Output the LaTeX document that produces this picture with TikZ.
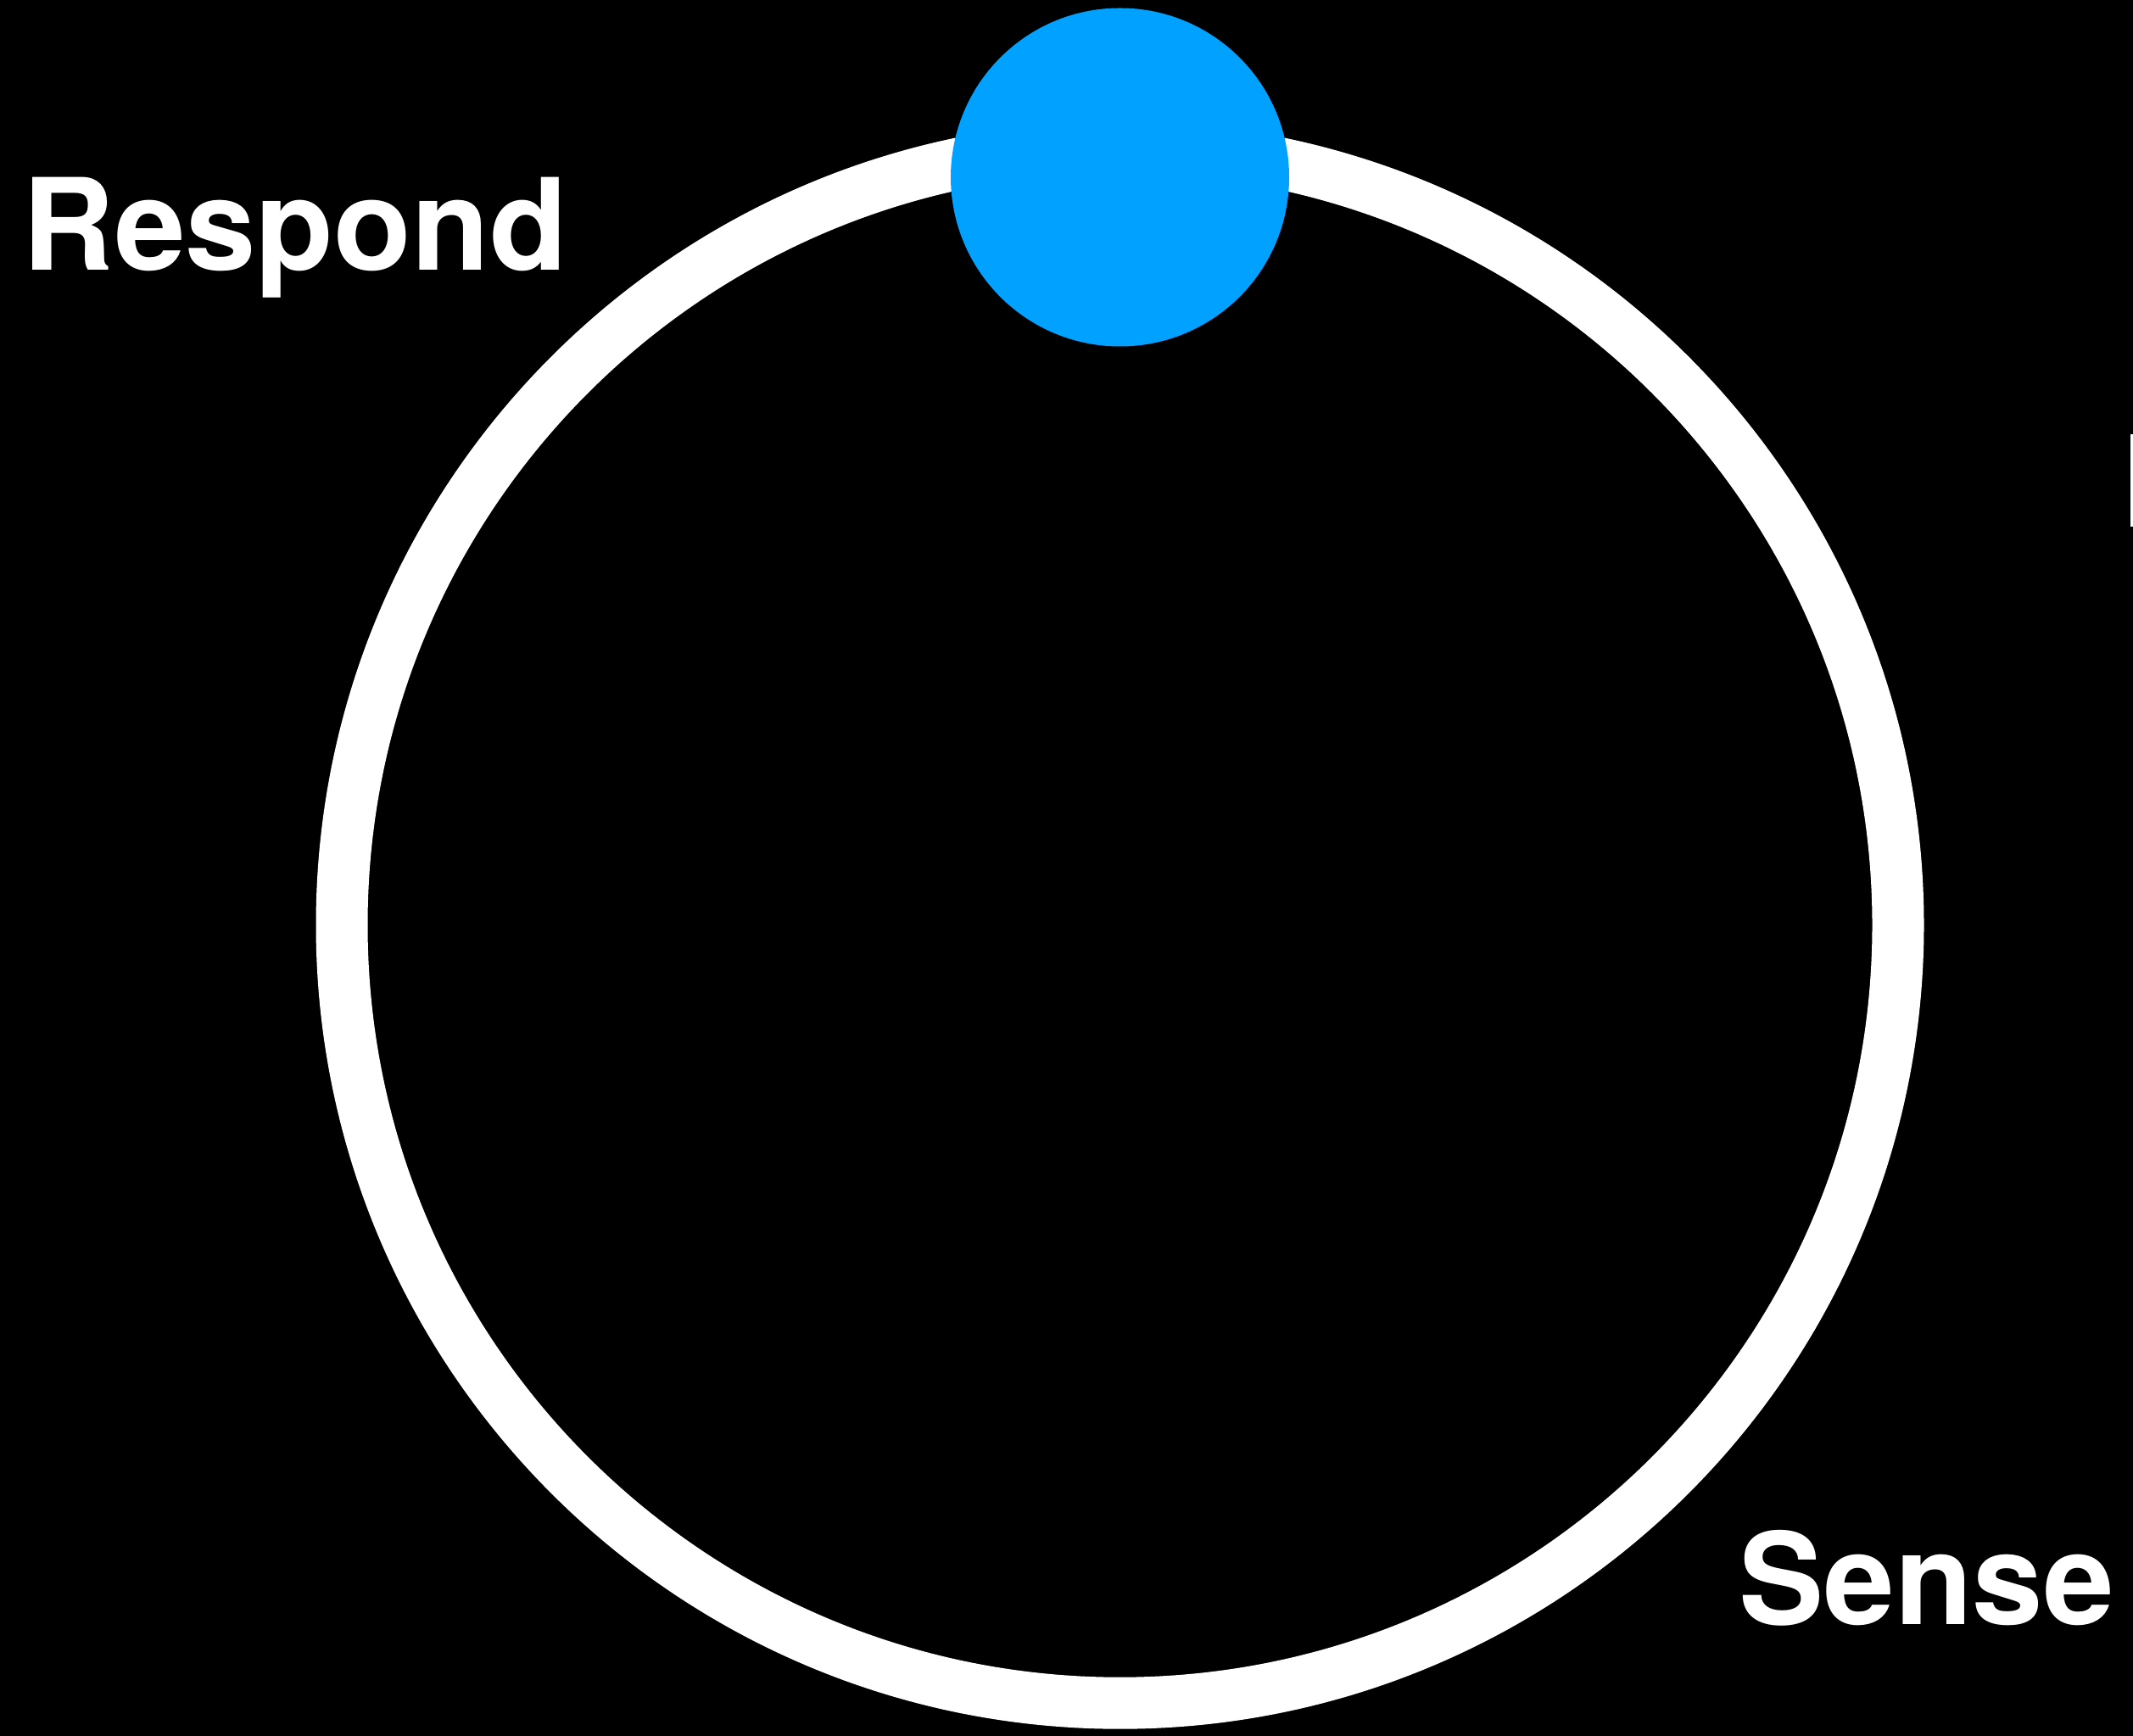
\documentclass[tikz,border=0pt]{standalone}
\usepackage{fontspec}
\setmainfont{TeX Gyre Heros}
\usepackage{tikz}
\usetikzlibrary{positioning}
\definecolor{dotblue}{RGB}{0,161,255}

\begin{document}
\begin{tikzpicture}[
  ring/.style={circle,draw=white,line width=0.61cm,minimum size=18.35cm,inner sep=0pt},
  marker/.style={circle,fill=dotblue,minimum size=3.99cm,inner sep=0pt},
  tag/.style={text=white,font=\fontsize{42.7pt}{48pt}\selectfont\bfseries,inner sep=0pt,anchor=base west},
]

% Background
\useasboundingbox (0,0) rectangle (25.15,20.46);
\fill[black] (-0.2,-0.2) rectangle (25.35,20.66);

% Loop and marker
\node[ring] (loop) at (13.205,9.553) {};
\node[marker] (dot) at (13.205,18.37) {};

% Labels
\node[tag] (respond) at (0.26,17.27) {Respond};
\node[tag] (sense) at (20.50,1.31) {Sense};

% Clipped label at the right edge
\fill[white] (25.12,14.25) rectangle (25.35,15.34);

\end{tikzpicture}
\end{document}
